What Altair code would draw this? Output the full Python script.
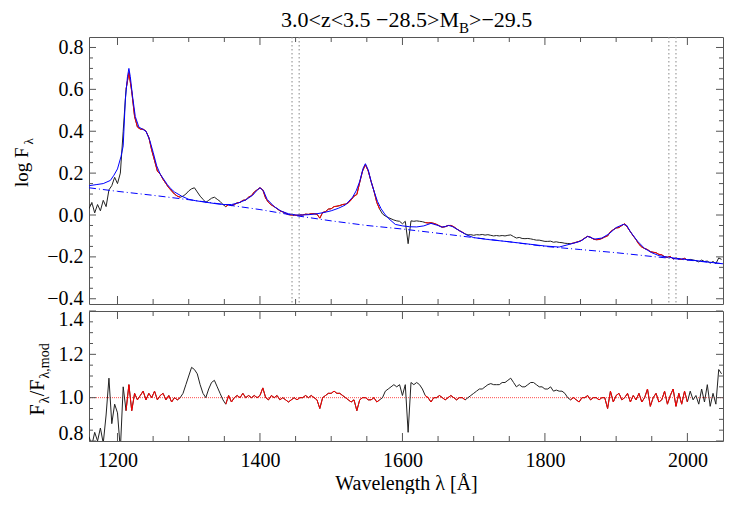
import altair as alt
import pandas as pd

FONT = "Liberation Serif, DejaVu Serif, serif"
FRAME = "#555555"
LS = 20   # label font size

# ---------------- data ----------------
lam = list(range(1160, 2049, 4))

obs_flux = [
    0.03, 0.06, 0.01, 0.05, 0.02, 0.07, 0.04, 0.12, 0.14, 0.18,
    0.15, 0.20, 0.40, 0.60, 0.68, 0.59, 0.47, 0.42, 0.41, 0.41,
    0.40, 0.37, 0.31, 0.26, 0.21, 0.195, 0.17, 0.15, 0.13, 0.115,
    0.10, 0.09, 0.085, 0.09, 0.10, 0.115, 0.125, 0.13, 0.11, 0.09,
    0.075, 0.06, 0.07, 0.08, 0.085, 0.075, 0.065, 0.05, 0.04, 0.05,
    0.045, 0.05, 0.058, 0.06, 0.07, 0.072, 0.085, 0.092, 0.11, 0.12,
    0.13, 0.12, 0.08, 0.06, 0.048, 0.04, 0.03, 0.02, 0.015, 0.008,
    0.002, 0.0, 0.0, -0.002, 0.0, 0.0, 0.004, 0.003, 0.006, 0.006,
    0.004, -0.015, 0.012, 0.016, 0.028, 0.03, 0.04, 0.042, 0.045, 0.05,
    0.052, 0.058, 0.072, 0.09, 0.098, 0.155, 0.21, 0.24, 0.21, 0.16,
    0.115, 0.06, 0.028, 0.005, -0.005, -0.012, -0.018, -0.024, -0.028, -0.03,
    -0.042, -0.03, -0.137, -0.028, -0.03, -0.028, -0.03, -0.032, -0.036, -0.038,
    -0.037, -0.04, -0.045, -0.052, -0.058, -0.056, -0.05, -0.05, -0.056, -0.066,
    -0.075, -0.082, -0.09, -0.095, -0.094, -0.097, -0.094, -0.095, -0.093, -0.096,
    -0.094, -0.097, -0.1, -0.098, -0.1, -0.098, -0.1, -0.097, -0.095, -0.103,
    -0.11, -0.107, -0.112, -0.113, -0.112, -0.114, -0.117, -0.12, -0.12, -0.123,
    -0.126, -0.126, -0.125, -0.13, -0.128, -0.131, -0.132, -0.135, -0.136, -0.137,
    -0.134, -0.13, -0.126, -0.12, -0.11, -0.102, -0.106, -0.115, -0.118, -0.117,
    -0.112, -0.105, -0.1, -0.08, -0.07, -0.062, -0.06, -0.05, -0.042, -0.06,
    -0.08, -0.1, -0.118, -0.14, -0.153, -0.16, -0.165, -0.175, -0.178, -0.18,
    -0.188, -0.19, -0.2, -0.202, -0.198, -0.21, -0.205, -0.21, -0.212, -0.207,
    -0.215, -0.212, -0.215, -0.218, -0.224, -0.215, -0.222, -0.22, -0.23, -0.222,
    -0.232, -0.205, -0.212,
]

ratio = [
    0.82, 0.78, 0.84, 0.80, 0.86, 0.79, 0.92, 1.09, 0.88, 0.97,
    0.93, 0.76, 1.05, 0.94, 1.06, 0.94, 1.02, 0.99, 1.01, 1.03,
    0.99, 1.02, 1.00, 1.03, 0.99, 1.01, 1.02, 0.99, 1.01, 0.98,
    1.00, 0.99, 1.00, 1.02, 1.06, 1.10, 1.14, 1.13, 1.11, 1.06,
    1.02, 1.00, 1.04, 1.07, 1.08, 1.05, 1.02, 0.99, 0.97, 1.01,
    0.98, 1.00, 1.01, 1.00, 1.02, 1.00, 1.01, 1.00, 1.01, 1.00,
    1.01, 1.045, 1.00, 0.99, 1.01, 1.00, 1.01, 0.99, 1.00, 0.99,
    0.98, 0.99, 1.00, 0.99, 1.00, 1.00, 1.01, 1.00, 1.01, 1.00,
    0.99, 0.95, 1.00, 1.01, 1.02, 1.02, 1.03, 1.02, 1.02, 1.01,
    1.00, 0.99, 0.98, 0.99, 0.94, 0.99, 1.00, 1.00, 0.99, 0.99,
    1.00, 0.98, 0.99, 1.00, 1.03, 1.04, 1.05, 1.06, 1.05, 1.06,
    1.01, 1.06, 0.84, 1.07, 1.06, 1.07, 1.06, 1.04, 1.01, 1.00,
    0.98, 1.00, 1.00, 1.01, 1.00, 0.99, 1.00, 1.01, 1.00, 0.99,
    1.00, 1.00, 0.99, 1.00, 1.01, 1.02, 1.03, 1.04, 1.04, 1.05,
    1.06, 1.065, 1.06, 1.06, 1.06, 1.07, 1.07, 1.08, 1.09, 1.07,
    1.05, 1.06, 1.05, 1.05, 1.06, 1.07, 1.07, 1.06, 1.05, 1.05,
    1.04, 1.04, 1.05, 1.03, 1.035, 1.03, 1.03, 1.02, 1.00, 0.99,
    1.00, 0.99, 0.98, 1.00, 1.00, 1.01, 0.99, 1.00, 1.00, 0.99,
    1.00, 1.00, 0.95, 1.03, 0.98, 1.01, 1.02, 0.99, 1.00, 1.02,
    0.98, 1.01, 0.99, 1.02, 0.98, 1.00, 1.04, 0.96, 1.00, 1.02,
    0.98, 0.99, 1.03, 0.97, 1.01, 1.04, 0.96, 1.02, 0.97, 1.03,
    0.98, 1.03, 0.99, 1.01, 0.97, 1.04, 0.98, 1.06, 0.96, 1.02,
    0.97, 1.13, 1.11,
]

model_lam = [1160, 1170, 1180, 1190, 1195, 1200, 1205, 1208, 1211, 1214, 1216, 1218,
             1221, 1225, 1230, 1235, 1240, 1245, 1250, 1255, 1260, 1265, 1270, 1275,
             1280, 1290, 1300, 1310, 1320, 1330, 1340, 1350, 1360, 1370, 1380, 1390,
             1395, 1400, 1405, 1410, 1420, 1430, 1440, 1450, 1460, 1470, 1480, 1490,
             1500, 1510, 1520, 1530, 1535, 1540, 1545, 1548, 1552, 1556, 1560, 1565,
             1570, 1575, 1580, 1590, 1600, 1610, 1620, 1630, 1640, 1650, 1655, 1660,
             1665, 1670, 1680, 1690, 1700, 1720, 1750, 1780, 1800, 1820, 1840, 1850,
             1860, 1870, 1880, 1890, 1900, 1910, 1915, 1920, 1930, 1940, 1950, 1960,
             1970, 1980, 1990, 2000, 2020, 2050]
model_flux = [0.14, 0.145, 0.15, 0.165, 0.19, 0.22, 0.28, 0.33, 0.55, 0.66, 0.70, 0.66,
              0.57, 0.47, 0.42, 0.41, 0.40, 0.36, 0.30, 0.235, 0.195, 0.17, 0.145, 0.125,
              0.11, 0.09, 0.075, 0.068, 0.063, 0.058, 0.053, 0.05, 0.05, 0.058, 0.072, 0.095,
              0.115, 0.13, 0.115, 0.075, 0.04, 0.018, 0.006, 0.0, 0.0, 0.002, 0.006, 0.012,
              0.02, 0.032, 0.048, 0.085, 0.115, 0.16, 0.225, 0.245, 0.215, 0.16, 0.115, 0.065,
              0.03, 0.005, -0.015, -0.045, -0.052, -0.056, -0.057, -0.052, -0.04, -0.05, -0.058, -0.055,
              -0.05, -0.055, -0.075, -0.095, -0.108, -0.117, -0.128, -0.14, -0.148, -0.153, -0.135, -0.125,
              -0.102, -0.115, -0.11, -0.09, -0.06, -0.045, -0.05, -0.08, -0.125, -0.16, -0.18, -0.194,
              -0.2, -0.205, -0.209, -0.213, -0.221, -0.233]

cont_lam = [1160, 1200, 1250, 1300, 1350, 1400, 1450, 1500, 1550, 1600,
            1650, 1700, 1750, 1800, 1850, 1900, 1950, 2000, 2050]
cont_flux = [0.13, 0.113, 0.094, 0.073, 0.05, 0.026, -0.003, -0.028, -0.05, -0.067,
             -0.087, -0.108, -0.128, -0.15, -0.165, -0.18, -0.198, -0.215, -0.233]

# fitting windows (drawn in red)
win_lo = [1210, 1350, 1630, 1834]
win_hi = [1290, 1570, 1690, 2000]

# vertical dotted markers
vlines = [1445, 1455, 1974, 1984]

# axes ticks
x_major = [1200, 1400, 1600, 1800, 2000]
x_minor = [1250, 1300, 1350, 1450, 1500, 1550, 1650, 1700, 1750, 1850, 1900, 1950]
y1_major = [-0.4, -0.2, 0.0, 0.2, 0.4, 0.6, 0.8]
y1_minor = [-0.35, -0.3, -0.25, -0.15, -0.1, -0.05, 0.05, 0.1, 0.15, 0.25, 0.3, 0.35,
            0.45, 0.5, 0.55, 0.65, 0.7, 0.75]
y2_major = [0.8, 1.0, 1.2, 1.4]
y2_minor = [0.85, 0.9, 0.95, 1.05, 1.1, 1.15, 1.25, 1.3, 1.35]

assert len(lam) == len(obs_flux) == len(ratio)
assert len(model_lam) == len(model_flux)
assert len(cont_lam) == len(cont_flux)

win = []
for l in lam:
    w = -1
    for i, (a, b) in enumerate(zip(win_lo, win_hi)):
        if a <= l <= b:
            w = i
    win.append(w)

df = pd.DataFrame({"lam": lam, "flux": obs_flux, "ratio": ratio, "win": win})
dfm = pd.DataFrame({"lam": model_lam, "flux": model_flux})
dfc = pd.DataFrame({"lam": cont_lam, "flux": cont_flux})
dfv = pd.DataFrame({"lam": vlines})
one = pd.DataFrame({"a": [0]})

W, H1, H2 = 634, 267, 130
xs = alt.Scale(domain=[1160, 2050], nice=False, zero=False)
ys1 = alt.Scale(domain=[-0.425, 0.85], nice=False, zero=False)
ys2 = alt.Scale(domain=[0.8, 1.4], nice=False, zero=False)


def xticks(H):
    layers = []
    for vals, L in ((x_major, 8), (x_minor, 5)):
        d = pd.DataFrame({"lam": vals})
        layers.append(alt.Chart(d).mark_rule(color=FRAME, strokeWidth=1).encode(
            x=alt.X("lam:Q", scale=xs), y=alt.value(0), y2=alt.value(L)))
        layers.append(alt.Chart(d).mark_rule(color=FRAME, strokeWidth=1).encode(
            x=alt.X("lam:Q", scale=xs), y=alt.value(H - L), y2=alt.value(H)))
    return layers


def yticks(field, scale, major, minor):
    layers = []
    for vals, L in ((major, 7), (minor, 4)):
        d = pd.DataFrame({field: vals})
        layers.append(alt.Chart(d).mark_rule(color=FRAME, strokeWidth=1).encode(
            y=alt.Y(f"{field}:Q", scale=scale), x=alt.value(0), x2=alt.value(L)))
        layers.append(alt.Chart(d).mark_rule(color=FRAME, strokeWidth=1).encode(
            y=alt.Y(f"{field}:Q", scale=scale), x=alt.value(W - L), x2=alt.value(W)))
    return layers


def txt(text, x, y, size, align="left", baseline="alphabetic", angle=0):
    kw = dict(text=text, font=FONT, fontSize=size, align=align, baseline=baseline, color="black")
    if angle:
        kw["angle"] = angle
    return alt.Chart(one).mark_text(**kw).encode(x=alt.value(x), y=alt.value(y))


# ---------------- top panel ----------------
black1 = alt.Chart(df).mark_line(color="#222222", strokeWidth=1, clip=True).encode(
    x=alt.X("lam:Q", scale=xs, axis=None),
    y=alt.Y("flux:Q", scale=ys1, axis=alt.Axis(
        values=y1_major, format=".1f", ticks=False, domain=False, grid=False,
        labelFont=FONT, labelFontSize=LS, labelColor="black", labelPadding=6, title=None)),
)
red1 = alt.Chart(df).transform_filter("datum.win >= 0").mark_line(
    color="#ff0000", strokeWidth=1, clip=True).encode(
    x=alt.X("lam:Q", scale=xs), y=alt.Y("flux:Q", scale=ys1), detail="win:N")
cont1 = alt.Chart(dfc).mark_line(color="#0000ff", strokeWidth=1, strokeDash=[7, 3, 1, 3], clip=True).encode(
    x=alt.X("lam:Q", scale=xs), y=alt.Y("flux:Q", scale=ys1))
model1 = alt.Chart(dfm).mark_line(color="#0000ff", strokeWidth=1, clip=True).encode(
    x=alt.X("lam:Q", scale=xs), y=alt.Y("flux:Q", scale=ys1))
vl1 = alt.Chart(dfv).mark_rule(color="#888888", strokeWidth=1, strokeDash=[1.5, 2.5]).encode(
    x=alt.X("lam:Q", scale=xs))

anchor = alt.Chart(one).mark_rule(opacity=0).encode(
    x=alt.value(-80), x2=alt.value(-79), y=alt.value(-27), y2=alt.value(-26))

title_parts = [
    txt("3.0<z<3.5 \u221228.5>M", 370, -27, 22, align="right", baseline="top"),
    txt("B", 370, -16, 15, align="left", baseline="top"),
    txt(">\u221229.5", 380, -27, 22, align="left", baseline="top"),
]
ytitle1 = [
    txt("log F", -61, 150, 19, align="left", angle=270),
    txt("\u03bb", -56, 107.5, 13, align="left", angle=270),
]

top = alt.layer(
    black1, red1, cont1, model1, vl1, *xticks(H1), *yticks("flux", ys1, y1_major, y1_minor),
    anchor, *title_parts, *ytitle1,
).properties(width=W, height=H1)

# ---------------- bottom panel ----------------
one_line = pd.DataFrame({"ratio": [1.0]})
black2 = alt.Chart(df).mark_line(color="#222222", strokeWidth=1, clip=True).encode(
    x=alt.X("lam:Q", scale=xs, axis=alt.Axis(
        values=x_major, format="d", ticks=False, domain=False, grid=False,
        labelFont=FONT, labelFontSize=LS, labelColor="black", labelPadding=9,
        title="Wavelength \u03bb [\u00c5]", titleFont=FONT, titleFontSize=LS,
        titleFontWeight="normal", titleColor="black", titlePadding=3)),
    y=alt.Y("ratio:Q", scale=ys2, axis=alt.Axis(
        values=y2_major, format=".1f", ticks=False, domain=False, grid=False,
        labelFont=FONT, labelFontSize=LS, labelColor="black", labelPadding=6,
        labelFlush=True, labelFlushOffset=2, title=None)),
)
red2 = alt.Chart(df).transform_filter("datum.win >= 0").mark_line(
    color="#ff0000", strokeWidth=1, clip=True).encode(
    x=alt.X("lam:Q", scale=xs), y=alt.Y("ratio:Q", scale=ys2), detail="win:N")
unity = alt.Chart(one_line).mark_rule(color="#ff0000", strokeWidth=1, strokeDash=[1, 1], opacity=0.7).encode(
    y=alt.Y("ratio:Q", scale=ys2))

ytitle2 = [
    txt("F", -45, 104.5, LS, angle=270),
    txt("\u03bb", -40, 92.3, 14, angle=270),
    txt("/", -45, 85.3, LS, angle=270),
    txt("F", -45, 79.7, LS, angle=270),
    txt("\u03bb,mod", -40, 67.5, 14, angle=270),
]

bottom = alt.layer(
    unity, black2, red2, *xticks(H2), *yticks("ratio", ys2, y2_major, y2_minor), *ytitle2,
).properties(width=W, height=H2)

chart = alt.vconcat(top, bottom, spacing=7, bounds="flush").properties(
    padding={"left": 0, "top": 0, "right": 0, "bottom": 0}
).configure_view(stroke=FRAME, strokeWidth=1)

chart.save("out.html", embed_options={"renderer": "svg", "actions": False})
